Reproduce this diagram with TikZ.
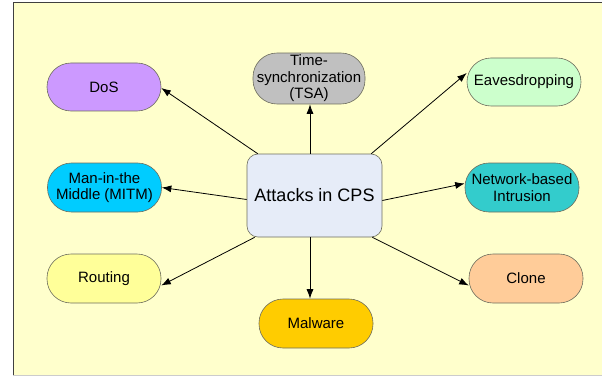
\documentclass[tikz,border=0pt]{standalone}
\usepackage{fontspec}
\setmainfont{Liberation Sans}
\usetikzlibrary{arrows.meta}
\definecolor{bgyellow}{HTML}{FFFFCC}
\definecolor{hubfill}{HTML}{E6ECF8}
\definecolor{edgegrey}{HTML}{6E6E5E}
\definecolor{cDoS}{HTML}{CC99FF}
\definecolor{cTSA}{HTML}{C0C0C0}
\definecolor{cEav}{HTML}{CCFFCC}
\definecolor{cMITM}{HTML}{00CCFF}
\definecolor{cNet}{HTML}{33CCCC}
\definecolor{cRout}{HTML}{FFFF99}
\definecolor{cClone}{HTML}{FFCC99}
\definecolor{cMal}{HTML}{FFCC00}
\tikzset{
  attack/.style={draw=edgegrey, line width=0.6pt, rounded corners=24pt,
    minimum width=114pt, minimum height=48pt, align=center, inner sep=2pt,
    font=\fontsize{15}{16.5}\selectfont, text=black},
  hub/.style={draw=edgegrey, line width=0.6pt, fill=hubfill, rounded corners=11pt,
    minimum width=135pt, minimum height=83pt, align=center,
    font=\fontsize{18}{20}\selectfont},
  link/.style={draw=black, line width=0.8pt, -{Latex[length=9.5pt,width=7pt]}}
}
\begin{document}
\begin{tikzpicture}[x=1pt,y=-1pt]
\useasboundingbox (0,0) rectangle (602,377);
% backdrop
\fill[bgyellow] (13,3) rectangle (602,375);
\draw[black!75, line width=1pt] (13,376) -- (13,3) -- (602,3);
\draw[black!20, line width=0.6pt] (13,375.5) -- (602,375.5);

% central topic
\node[hub] (hub) at (314.5,195.5) {Attacks in CPS};

% attack categories
\node[attack, fill=cDoS]   (dos)   at (104,87)   {DoS};
\node[attack, fill=cTSA, minimum width=112pt, minimum height=49pt]
                            (tsa)   at (309,78.5) {Time-\\synchronization\\(TSA)};
\node[attack, fill=cEav]   (eav)   at (524,82)   {Eavesdropping};
\node[attack, fill=cMITM, minimum height=49pt]
                            (mitm)  at (104.5,187.5) {Man-in-the\\Middle (MITM)};
\node[attack, fill=cNet, minimum height=49pt]
                            (net)   at (522,187.5) {Network-based\\Intrusion};
\node[attack, fill=cRout, minimum height=49pt]
                            (rout)  at (104,278.5) {Routing};
\node[attack, fill=cClone, minimum height=49pt]
                            (clone) at (526,278.5) {Clone};
\node[attack, fill=cMal, minimum height=49pt]
                            (mal)   at (316,323.5) {Malware};

% connectors from the hub
\draw[link] ([xshift=11pt]hub.north west) -- ([yshift=-1pt]dos.east);
\draw[link] ([xshift=-4.5pt]hub.north) -- ([xshift=1pt]tsa.south);
\draw[link] ([xshift=-11pt]hub.north east) -- ([yshift=9pt]eav.west);
\draw[link] ([yshift=-4pt]hub.west) -- (mitm.east);
\draw[link] ([yshift=-5pt]hub.east) -- ([yshift=4pt]net.west);
\draw[link] ([xshift=8pt]hub.south west) -- ([yshift=-7pt]rout.east);
\draw[link] ([xshift=-10pt]hub.south east) -- ([yshift=-7pt]clone.west);
\draw[link] ([xshift=-4.5pt]hub.south) -- ([xshift=-6pt]mal.north);
\end{tikzpicture}
\end{document}
